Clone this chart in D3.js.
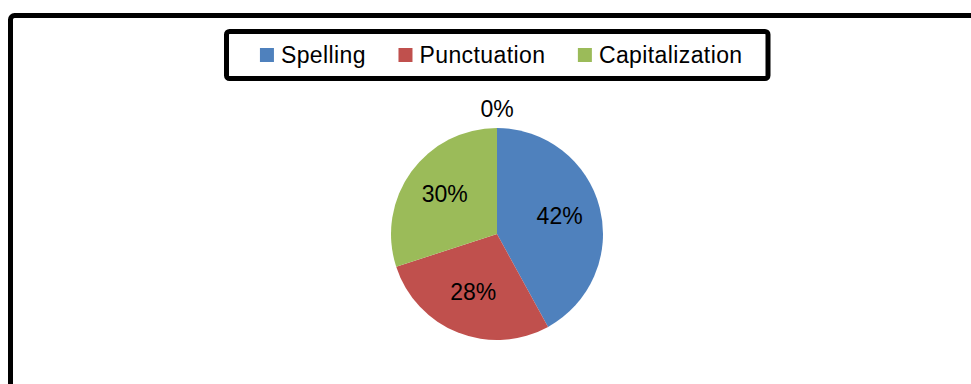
<!DOCTYPE html>
<html>
<head>
<meta charset="utf-8">
<script src="https://cdn.jsdelivr.net/npm/d3@7"></script>
<style>
  html, body { margin: 0; padding: 0; background: #fff; }
  svg { display: block; }
  text { font-family: "Liberation Sans", Arial, sans-serif; }
</style>
</head>
<body>
<svg id="chart" width="971" height="384"></svg>
<script>
// ---- data ----
const categories = ["Spelling", "Punctuation", "Capitalization", ""];
const values = [42, 28, 30, 0];
const legendLabels = ["Spelling", "Punctuation", "Capitalization"];
const colors = ["#4F81BD", "#C0504D", "#9BBB59", "#8064A2"];

const svg = d3.select("#chart");

// outer chart frame (extends beyond right/bottom edges)
svg.append("rect")
  .attr("x", 10.5).attr("y", 15.5)
  .attr("width", 1100).attr("height", 500)
  .attr("rx", 4)
  .attr("fill", "#fff").attr("stroke", "#000").attr("stroke-width", 5);

// pie
const cx = 497, cy = 234, r = 106;
const data = categories.map((c, i) => ({ name: c, value: values[i], color: colors[i] }));
const pie = d3.pie().value(d => d.value).sort(null);
const arcs = pie(data);
const arc = d3.arc().innerRadius(0).outerRadius(r);
const labelArc = d3.arc().innerRadius(r * 0.61).outerRadius(r * 0.61);
const outerLabelArc = d3.arc().innerRadius(r + 17).outerRadius(r + 17);
const total = d3.sum(values);

const g = svg.append("g").attr("transform", `translate(${cx},${cy})`);
g.selectAll("path.slice")
  .data(arcs.filter(a => a.data.value > 0))
  .join("path")
  .attr("class", "slice")
  .attr("d", arc)
  .attr("fill", d => d.data.color);

g.selectAll("text.lbl")
  .data(arcs)
  .join("text")
  .attr("class", "lbl")
  .attr("transform", d => {
    const c = d.data.value > 0 ? labelArc.centroid(d) : outerLabelArc.centroid(d);
    return `translate(${c[0]},${c[1] - 2})`;
  })
  .attr("text-anchor", "middle")
  .attr("dy", "0.35em")
  .attr("font-size", 23)
  .attr("fill", "#000")
  .text(d => Math.round(d.data.value / total * 100) + "%");

// legend
const legBox = { x: 226.5, y: 31.5, w: 541.5, h: 47 };
svg.append("rect")
  .attr("x", legBox.x).attr("y", legBox.y)
  .attr("width", legBox.w).attr("height", legBox.h)
  .attr("rx", 3)
  .attr("fill", "#fff").attr("stroke", "#000").attr("stroke-width", 5);

const leg = svg.append("g");
const items = leg.selectAll("g.item")
  .data(legendLabels)
  .join("g").attr("class", "item");
items.append("rect")
  .attr("width", 14).attr("height", 14)
  .attr("y", 48)
  .attr("fill", (d, i) => colors[i]);
items.append("text")
  .attr("y", 62.5)
  .attr("font-size", 23)
  .attr("letter-spacing", 0.4)
  .attr("fill", "#000")
  .text(d => d);

// layout legend items horizontally
const widths = [];
items.select("text").each(function () { widths.push(this.getComputedTextLength()); });
const itemW = widths.map(w => 14 + 7 + w);
const gap = 32.5;
const totalW = d3.sum(itemW) + gap * (itemW.length - 1);
let x0 = legBox.x + legBox.w / 2 + 4 - totalW / 2;
items.each(function (d, i) {
  const sel = d3.select(this);
  sel.select("rect").attr("x", x0);
  sel.select("text").attr("x", x0 + 21);
  x0 += itemW[i] + gap;
});
</script>
</body>
</html>
